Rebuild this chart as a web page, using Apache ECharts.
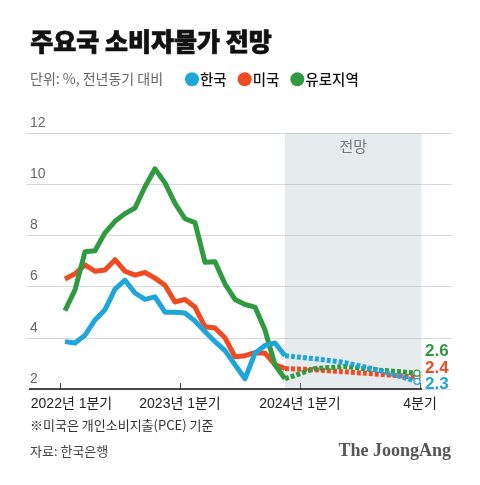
<!DOCTYPE html>
<html><head><meta charset="utf-8">
<script src="https://cdn.jsdelivr.net/npm/echarts@6/dist/echarts.min.js"></script>
<style>html,body{margin:0;padding:0;background:#fff}#c{width:480px;height:485px}</style>
</head><body><div id="c"></div>
<script>
// Monthly actuals, Jan 2022 .. Nov 2023 (month offset 0..22)
const months = ['2022-01','2022-02','2022-03','2022-04','2022-05','2022-06','2022-07','2022-08','2022-09','2022-10','2022-11','2022-12',
                '2023-01','2023-02','2023-03','2023-04','2023-05','2023-06','2023-07','2023-08','2023-09','2023-10','2023-11'];
const korea = [3.85,3.8,4.1,4.7,5.1,5.9,6.25,5.75,5.5,5.6,5.0,5.0,4.97,4.65,4.25,3.85,3.5,2.95,2.4,3.4,3.7,3.8,3.3];
const usa   = [6.3,6.5,6.85,6.6,6.65,7.05,6.6,6.45,6.55,6.33,6.05,5.4,5.5,5.2,4.43,4.38,4.0,3.26,3.3,3.42,3.4,2.95,2.8];
const euro  = [5.06,5.87,7.36,7.4,8.1,8.55,8.85,9.07,9.9,10.6,10.05,9.25,8.65,8.5,6.95,6.97,6.1,5.5,5.3,5.2,4.3,2.94,2.4];
// Forecast (month offsets from Jan 2022)
const forecastMonths = [22, 25, 28, 31, 35.2];
const koreaF = [3.3, 3.18, 3.03, 2.77, 2.3];
const usaF   = [2.8, 2.75, 2.67, 2.59, 2.46];
const euroF  = [2.4, 2.8, 2.88, 2.75, 2.62];
const endLabels = {'한국':'2.3','미국':'2.4','유로지역':'2.6'};
// Axis ticks
const tickPos = [-0.5, 11.5, 23.5, 35.5];
const tickLabels = ['2022년 1분기','2023년 1분기','2024년 1분기','4분기'];
const forecastRange = [22, 35.65];
const axisRange = [-3.6, 35.7];

const COL = {'한국':'#1ea6da','미국':'#ef4b23','유로지역':'#2f9a40'};
const FONT = "'Liberation Sans','Noto Sans CJK KR',sans-serif";
const KFONT = "'Noto Sans CJK KR',sans-serif";

function actual(name, vals){
  return {name, type:'line', z:3, symbol:'none', data: vals.map((v,i)=>[months.indexOf(months[i]), v]),
    lineStyle:{color:COL[name], width:5, join:'round'}, itemStyle:{color:COL[name]}, silent:true, animation:false};
}
function forecast(name, vals, dy){
  const d = vals.map((v,i)=>[forecastMonths[i], v]);
  const last = d.length-1;
  return {name, type:'line', z:3, symbol:'none',
    data: d.map((p,i)=> i===last ? {value:p, symbol:'circle', symbolSize:6,
      itemStyle:{color:'#fff', borderColor:COL[name], borderWidth:1.2}} : {value:p}),
    lineStyle:{color:COL[name], width:5, type:[4,2], cap:'butt'}, itemStyle:{color:COL[name]},
    endLabel:{show:true, formatter:endLabels[name], offset:[3,dy], distance:5, color:COL[name],
      fontSize:17, fontWeight:'bold', fontFamily:FONT},
    silent:true, animation:false};
}

const chart = echarts.init(document.getElementById('c'), null, {renderer:'canvas'});
chart.setOption({
  animation:false,
  backgroundColor:'#fff',
  graphic:[
    {type:'text', left:30, top:29, style:{text:'주요국 소비자물가 전망', font:"900 25px "+KFONT, fill:'#111', stroke:'#111', lineWidth:0.7}},
    {type:'text', left:30, top:72, style:{text:'단위: %, 전년동기 대비', font:"14px "+KFONT, fill:'#666'}},
    {type:'text', left:30, top:419, style:{text:'※미국은 개인소비지출(PCE) 기준', font:"13px "+KFONT, fill:'#333'}},
    {type:'text', left:30, top:445, style:{text:'자료: 한국은행', font:"13px "+KFONT, fill:'#444'}},
    {type:'text', right:29, top:442, style:{text:'The JoongAng', font:"bold 18px 'Liberation Serif','DejaVu Serif',serif", fill:'#555'}}
  ],
  legend:{left:185, top:72, padding:0, icon:'circle', itemWidth:14, itemHeight:14, itemGap:11,
    data:['한국','미국','유로지역'],
    textStyle:{fontSize:14.5, color:'#111', fontFamily:KFONT, fontWeight:500, padding:[0,0,0,-4]}},
  grid:{left:27, right:28, top:133, bottom:96, containLabel:false},
  xAxis:{type:'value', min:-3.8, max:38.7, splitLine:{show:false}, axisLine:{show:false},
    axisTick:{show:true, inside:true, length:6, customValues:tickPos, lineStyle:{color:'#444'}},
    axisLabel:{customValues:tickPos, margin:8, color:'#222', fontSize:14, fontFamily:FONT,
      formatter:(v)=>{const i=tickPos.indexOf(v); return i===0 ? '{first|'+tickLabels[i]+'}' : tickLabels[i];},
      rich:{first:{padding:[0,0,0,23], fontSize:14, color:'#222', fontFamily:FONT}}}},
  yAxis:{type:'value', min:2, max:12, interval:2, axisLine:{show:false}, axisTick:{show:false},
    splitLine:{lineStyle:{color:'#d9d9d9', width:1}},
    axisLabel:{inside:true, margin:3, verticalAlign:'bottom', padding:[0,0,3,0], color:'#666', fontSize:14, fontFamily:FONT}},
  series:[
    {name:'shade', type:'line', z:1, data:[], silent:true,
      markArea:{silent:true, itemStyle:{color:'rgba(155,175,187,0.25)'},
        label:{show:true, position:'insideTop', distance:6, formatter:'전망', color:'#777', fontSize:15, fontFamily:KFONT},
        data:[[{xAxis:forecastRange[0], yAxis:12},{xAxis:forecastRange[1], yAxis:2}]]},
      markLine:{silent:true, symbol:'none', label:{show:false}, lineStyle:{color:'#111', width:1.5, type:'solid'},
        data:[[{coord:[axisRange[0],2]},{coord:[axisRange[1],2]}]]}},
    actual('미국', usa),
    actual('유로지역', euro),
    actual('한국', korea),
    forecast('미국', usaF, -9),
    forecast('유로지역', euroF, -22),
    forecast('한국', koreaF, 3)
  ]
});
</script></body></html>
